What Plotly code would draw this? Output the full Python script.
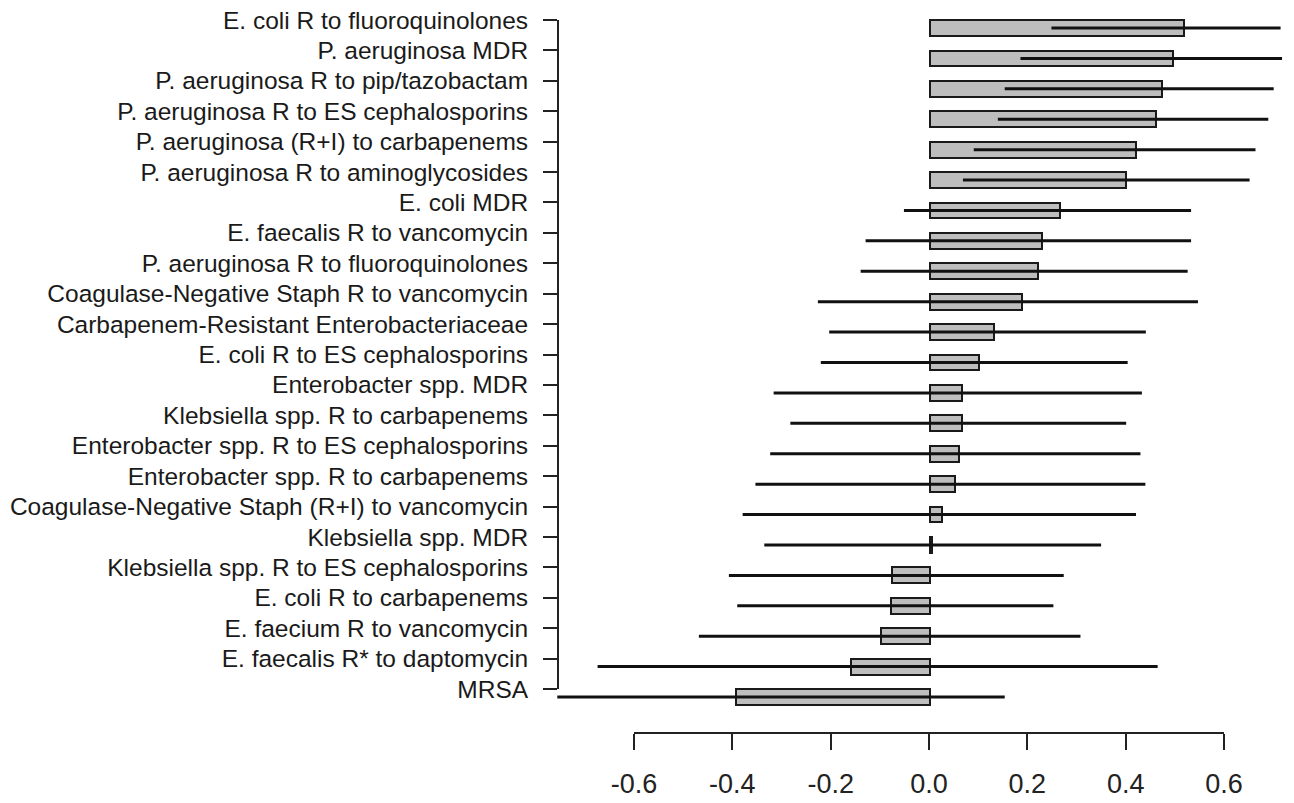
import plotly.graph_objects as go

categories = [
    "E. coli R to fluoroquinolones",
    "P. aeruginosa MDR",
    "P. aeruginosa R to pip/tazobactam",
    "P. aeruginosa R to ES cephalosporins",
    "P. aeruginosa (R+I) to carbapenems",
    "P. aeruginosa R to aminoglycosides",
    "E. coli MDR",
    "E. faecalis R to vancomycin",
    "P. aeruginosa R to fluoroquinolones",
    "Coagulase-Negative Staph R to vancomycin",
    "Carbapenem-Resistant Enterobacteriaceae",
    "E. coli R to ES cephalosporins",
    "Enterobacter spp. MDR",
    "Klebsiella spp. R to carbapenems",
    "Enterobacter spp. R to ES cephalosporins",
    "Enterobacter spp. R to carbapenems",
    "Coagulase-Negative Staph (R+I) to vancomycin",
    "Klebsiella spp. MDR",
    "Klebsiella spp. R to ES cephalosporins",
    "E. coli R to carbapenems",
    "E. faecium R to vancomycin",
    "E. faecalis R* to daptomycin",
    "MRSA",
]
estimate = [0.518, 0.496, 0.472, 0.460, 0.419, 0.399, 0.265, 0.228, 0.220, 0.188,
            0.132, 0.101, 0.066, 0.066, 0.061, 0.052, 0.025, 0.006, -0.076, -0.079,
            -0.098, -0.159, -0.393]
ci_low = [0.248, 0.185, 0.153, 0.139, 0.090, 0.068, -0.052, -0.130, -0.140, -0.227,
          -0.204, -0.221, -0.317, -0.283, -0.324, -0.354, -0.380, -0.336, -0.408, -0.391,
          -0.469, -0.675, -0.757]
ci_high = [0.714, 0.717, 0.700, 0.689, 0.663, 0.651, 0.532, 0.532, 0.525, 0.546,
           0.440, 0.403, 0.432, 0.400, 0.429, 0.439, 0.420, 0.349, 0.273, 0.252,
           0.307, 0.464, 0.153]
x_tick_vals = [-0.6, -0.4, -0.2, 0.0, 0.2, 0.4, 0.6]
x_tick_text = ["-0.6", "-0.4", "-0.2", "0.0", "0.2", "0.4", "0.6"]

W, H = 1294, 803
L = 540
rows = list(range(len(categories)))
err_plus = [h - e for h, e in zip(ci_high, estimate)]
err_minus = [e - l for e, l in zip(estimate, ci_low)]

# pixel geometry (layout only)
px_per_unit = 491.7
zero_px = 929.5
row0_px = 28.0
row_step = 30.41
label_offset_px = 8.0

xmin = (L - zero_px) / px_per_unit
xmax = (W - zero_px) / px_per_unit
ytop = -row0_px / row_step
ybot = (H - row0_px) / row_step

fig = go.Figure()
fig.add_trace(go.Scatter(
    x=[0] * len(rows), y=rows, mode="markers", marker=dict(opacity=0),
    xaxis="x2", yaxis="y2", hoverinfo="skip", showlegend=False,
))
fig.add_trace(go.Bar(
    x=estimate, y=rows, orientation="h", width=0.52,
    marker=dict(color="#bebebe", line=dict(color="#1a1a1a", width=2)),
    error_x=dict(type="data", symmetric=False, array=err_plus, arrayminus=err_minus,
                 width=0, thickness=3, color="#111111"),
    xaxis="x", yaxis="y", hoverinfo="skip", showlegend=False,
))

lab_top_px = row0_px - label_offset_px
lab_bot_px = row0_px - label_offset_px + row_step * (len(rows) - 1)

fig.update_layout(
    width=W, height=H,
    margin=dict(l=L, r=0, t=0, b=0, autoexpand=False),
    paper_bgcolor="white", plot_bgcolor="rgba(0,0,0,0)",
    bargap=0,
    xaxis=dict(domain=[0, 1], range=[xmin, xmax], visible=False, fixedrange=True),
    yaxis=dict(domain=[0, 1], range=[ybot, ytop], visible=False, fixedrange=True),
    xaxis2=dict(
        domain=[(634 - L) / (W - L), (1224 - L) / (W - L)], range=[-0.6, 0.6],
        anchor="free", position=1 - 733 / H, side="bottom",
        showline=True, linecolor="#222222", linewidth=2,
        ticks="outside", ticklen=16, tickwidth=2, tickcolor="#222222",
        tickvals=x_tick_vals, ticktext=x_tick_text, showgrid=False, zeroline=False,
        tickfont=dict(family="Liberation Sans, Arial", size=27, color="#222222"),
        ticklabelstandoff=11,
    ),
    yaxis2=dict(
        domain=[1 - lab_bot_px / H, 1 - lab_top_px / H], range=[len(rows) - 1, 0],
        anchor="free", position=(558 - L) / (W - L), side="left",
        showline=True, linecolor="#222222", linewidth=2,
        ticks="outside", ticklen=14, tickwidth=2, tickcolor="#222222",
        tickvals=rows, ticktext=categories, showgrid=False, zeroline=False,
        tickfont=dict(family="Liberation Sans, Arial", size=24.5, color="#1a1a1a"),
        ticklabelstandoff=10,
    ),
)

fig.write_html("out.html")
